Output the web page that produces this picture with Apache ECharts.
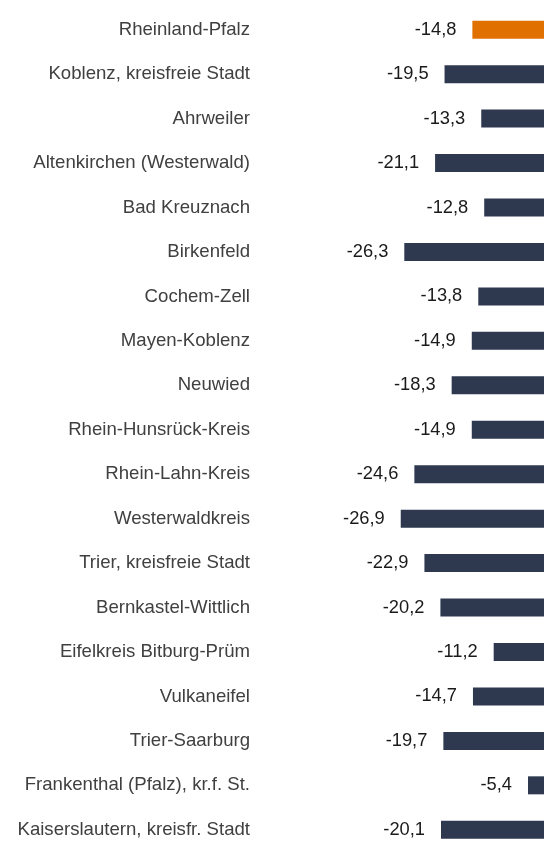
<!DOCTYPE html>
<html>
<head>
<meta charset="utf-8">
<script src="https://cdn.jsdelivr.net/npm/echarts@6/dist/echarts.min.js"></script>
<style>
  html, body { margin: 0; padding: 0; background: #ffffff; }
  #chart { width: 544px; height: 852px; }
</style>
</head>
<body>
<div id="chart"></div>
<script>
// Regions of Rheinland-Pfalz, state total first
const regions = [
  'Rheinland-Pfalz',
  'Koblenz, kreisfreie Stadt',
  'Ahrweiler',
  'Altenkirchen (Westerwald)',
  'Bad Kreuznach',
  'Birkenfeld',
  'Cochem-Zell',
  'Mayen-Koblenz',
  'Neuwied',
  'Rhein-Hunsrück-Kreis',
  'Rhein-Lahn-Kreis',
  'Westerwaldkreis',
  'Trier, kreisfreie Stadt',
  'Bernkastel-Wittlich',
  'Eifelkreis Bitburg-Prüm',
  'Vulkaneifel',
  'Trier-Saarburg',
  'Frankenthal (Pfalz), kr.f. St.',
  'Kaiserslautern, kreisfr. Stadt'
];

// Change in percent
const changes = [
  -14.8, -19.5, -13.3, -21.1, -12.8, -26.3, -13.8, -14.9, -18.3, -14.9,
  -24.6, -26.9, -22.9, -20.2, -11.2, -14.7, -19.7, -5.4, -20.1
];

const stateName = 'Rheinland-Pfalz';
const stateColor = '#E07000';
const districtColor = '#2E3950';

const chart = echarts.init(document.getElementById('chart'), null, { renderer: 'canvas' });

chart.setOption({
  animation: false,
  backgroundColor: '#ffffff',
  grid: {
    left: 264,
    right: 0,
    top: 7.5,
    bottom: -8.5,
    containLabel: false
  },
  // The zero line sits just past the right edge, so bars are cut off there
  xAxis: {
    type: 'value',
    min: -50,
    max: -2.7,
    show: false
  },
  yAxis: {
    type: 'category',
    data: regions,
    inverse: true,
    axisLine: { show: false },
    axisTick: { show: false },
    splitLine: { show: false },
    axisLabel: {
      margin: 14,
      color: '#404040',
      fontFamily: 'Liberation Sans, Arial, sans-serif',
      fontSize: 18.6
    }
  },
  series: [{
    type: 'bar',
    barWidth: 18,
    clip: true,
    data: changes.map((v, i) => ({
      value: v,
      itemStyle: { color: regions[i] === stateName ? stateColor : districtColor }
    })),
    label: {
      show: true,
      position: 'left',
      distance: 16,
      color: '#1a1a1a',
      fontFamily: 'Liberation Sans, Arial, sans-serif',
      fontSize: 18.3,
      formatter: p => p.value.toFixed(1).replace('.', ',')
    }
  }]
});
</script>
</body>
</html>
